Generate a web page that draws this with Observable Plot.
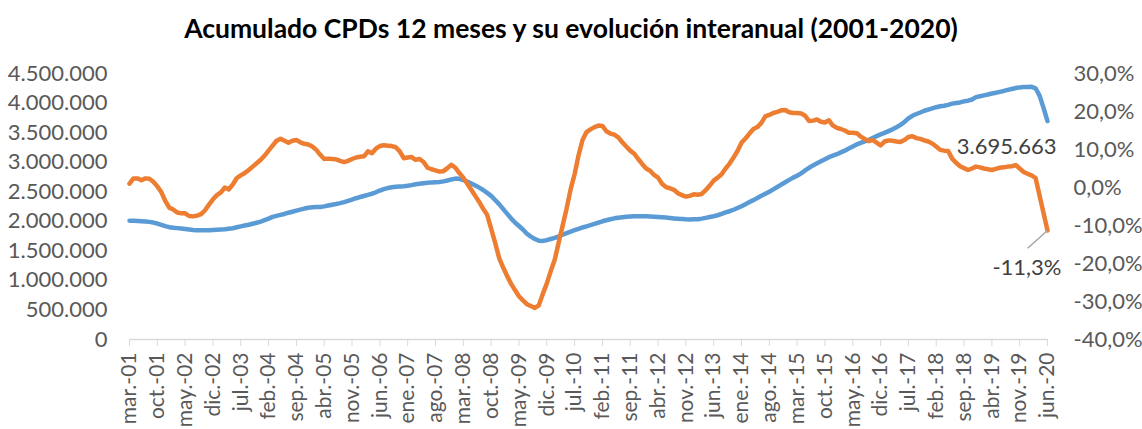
<!DOCTYPE html>
<html><head><meta charset="utf-8">
<script src="https://cdn.jsdelivr.net/npm/d3@7"></script>
<script src="https://cdn.jsdelivr.net/npm/@observablehq/plot@0.6"></script>
<style>
body{margin:0;background:#fff;font-family:Lato,"Open Sans",sans-serif;}
#title{width:1142px;height:50px;line-height:56px;text-align:center;font-weight:bold;font-size:26.5px;color:#000;white-space:nowrap;}
</style></head><body>
<div id="title">Acumulado CPDs 12 meses y su evolución interanual (2001-2020)</div>
<div id="chart"></div>
<script>
// Acumulado 12 meses (left axis), mar-01 .. jun-20
const blueValues = [
 2010000,2008000,2005000,2002000,1998000,1990000,1978000,1962000,1940000,1918000,1900000,1892000,
 1884000,1877000,1868000,1860000,1852000,1850000,1849000,1849000,1850000,1853000,1857000,1862000,
 1866000,1874000,1882000,1898000,1914000,1928000,1942000,1958000,1975000,1995000,2020000,2045000,
 2075000,2092000,2108000,2124000,2145000,2162000,2180000,2198000,2215000,2230000,2236000,2240000,
 2243000,2252000,2266000,2280000,2293000,2308000,2325000,2345000,2367000,2390000,2410000,2428000,
 2447000,2466000,2490000,2520000,2545000,2562000,2575000,2585000,2590000,2592000,2600000,2612000,
 2625000,2636000,2645000,2652000,2658000,2662000,2666000,2675000,2690000,2708000,2722000,2718000,
 2698000,2670000,2640000,2605000,2570000,2530000,2480000,2430000,2360000,2290000,2210000,2130000,
 2050000,1980000,1920000,1860000,1790000,1740000,1700000,1672000,1668000,1680000,1700000,1720000,
 1745000,1772000,1800000,1826000,1850000,1872000,1895000,1915000,1935000,1955000,1978000,2000000,
 2018000,2035000,2050000,2060000,2068000,2075000,2080000,2084000,2086000,2087000,2086000,2082000,
 2078000,2073000,2068000,2062000,2055000,2048000,2042000,2037000,2033000,2032000,2034000,2036000,
 2045000,2058000,2072000,2086000,2102000,2125000,2150000,2170000,2195000,2225000,2255000,2290000,
 2325000,2358000,2395000,2430000,2465000,2500000,2540000,2580000,2620000,2660000,2700000,2738000,
 2770000,2810000,2860000,2905000,2945000,2980000,3015000,3050000,3085000,3110000,3135000,3165000,
 3195000,3230000,3265000,3300000,3325000,3350000,3375000,3410000,3440000,3470000,3495000,3525000,
 3555000,3590000,3630000,3680000,3740000,3785000,3815000,3840000,3870000,3890000,3910000,3930000,
 3945000,3955000,3970000,3990000,4002000,4010000,4030000,4040000,4060000,4100000,4115000,4130000,
 4145000,4162000,4175000,4190000,4205000,4222000,4238000,4255000,4265000,4270000,4272000,4275000,
 4250000,4125000,3920000,3695663
];
// Evolución interanual, % (right axis)
const orangeValues = [
 1.0,2.4,2.4,1.9,2.4,2.3,1.5,0.3,-1.2,-3.5,-5.3,-5.8,
 -6.6,-6.8,-6.8,-7.5,-7.6,-7.4,-7.0,-6.0,-4.5,-3.1,-2.0,-1.3,
 0.0,-0.5,0.8,2.5,3.2,3.8,4.6,5.5,6.4,7.3,8.4,9.7,
 11.0,12.3,12.8,12.3,11.8,12.3,12.5,11.9,11.5,11.3,10.8,9.9,
 8.6,7.5,7.6,7.5,7.4,7.0,6.7,7.0,7.5,7.9,8.1,8.2,
 9.5,9.0,10.2,10.9,11.1,11.0,10.9,10.6,9.5,7.7,7.9,8.0,
 7.3,7.5,6.7,5.2,4.8,4.5,4.2,4.3,5.1,6.0,5.2,3.8,
 2.6,1.0,-0.6,-2.2,-3.8,-5.6,-7.2,-10.8,-14.5,-18.5,-21.0,-23.2,
 -25.3,-27.0,-28.6,-29.7,-30.7,-31.2,-31.7,-31.0,-28.0,-25.3,-22.0,-19.0,
 -14.5,-10.0,-5.5,-0.5,3.5,8.5,12.5,14.6,15.3,15.9,16.3,16.2,
 14.8,14.2,13.9,13.2,11.9,10.8,9.7,8.9,7.5,6.2,5.0,4.4,
 3.3,2.6,1.0,0.1,-0.2,-0.6,-1.5,-2.0,-2.4,-2.2,-1.8,-1.9,
 -1.7,-0.7,0.5,1.8,2.6,3.5,5.0,6.3,7.9,9.6,11.8,12.9,
 14.2,15.4,15.9,17.0,18.7,19.1,19.6,19.9,20.3,20.4,19.8,19.6,
 19.6,19.5,18.9,17.5,17.6,17.9,17.3,17.1,17.7,16.3,15.7,15.4,
 15.0,14.4,14.4,14.3,13.4,12.8,12.2,12.5,11.8,11.1,12.1,12.4,
 12.3,12.1,12.0,12.5,13.3,13.5,13.0,12.8,12.4,12.1,11.6,10.8,
 9.9,9.7,9.6,7.6,6.5,5.6,5.1,4.6,5.0,5.5,5.3,5.0,
 4.8,4.6,4.9,5.2,5.3,5.5,5.6,5.9,5.0,4.1,3.6,3.2,
 2.5,-2.1,-6.7,-11.3
];
const monthNames = ["ene.","feb.","mar.","abr.","may.","jun.","jul.","ago.","sep.","oct.","nov.","dic."];
const leftTicks = [0,500000,1000000,1500000,2000000,2500000,3000000,3500000,4000000,4500000];
const rightTicks = [-40,-30,-20,-10,0,10,20,30];
const leftMax = 4500000, rightMin = -40, rightMax = 30;
const tickStep = 7;

const months = blueValues.map((_, i) => {
  const k = 2 + i;
  return monthNames[k % 12] + "-" + String((2001 + Math.floor(k / 12)) % 100).padStart(2, "0");
});
const rows = months.map((m, i) => ({month: m, blue: blueValues[i], orange: orangeValues[i]}));
const last = rows[rows.length - 1];

const es = d3.formatLocale({decimal: ",", thousands: ".", grouping: [3], currency: ["", " €"], minus: "-"});
const fmtInt = es.format(",d");
const fmtPct = p => es.format(".1f")(p) + "%";
const toLeft = p => (p - rightMin) / (rightMax - rightMin) * leftMax;
const fromLeft = v => v / leftMax * (rightMax - rightMin) + rightMin;

const chart = Plot.plot({
  width: 1142, height: 379,
  marginLeft: 129, marginRight: 95, marginTop: 23, marginBottom: 90,
  style: {fontFamily: "Lato, 'Open Sans', sans-serif", fontSize: "21px", color: "#595959", background: "#fff", overflow: "visible"},
  x: {type: "point", domain: months, padding: 0, label: null},
  y: {domain: [0, leftMax], label: null},
  marks: [
    Plot.axisY(leftTicks, {anchor: "left", label: null, tickSize: 0, tickPadding: 22, tickFormat: fmtInt, fill: "#595959", fontSize: 22}),
    Plot.axisY(rightTicks.map(toLeft), {anchor: "right", label: null, tickSize: 0, tickPadding: 26, tickFormat: v => fmtPct(Math.round(fromLeft(v))), fill: "#595959", fontSize: 22}),
    Plot.axisX(months.filter((d, i) => i % tickStep === 0), {anchor: "bottom", label: null, tickRotate: -90, tickSize: 7, tickPadding: 6, stroke: "#d9d9d9", fill: "#595959", fontSize: 21, strokeOpacity: 1}),
    Plot.ruleY([0], {stroke: "#d9d9d9", strokeWidth: 1.5}),
    Plot.lineY(rows, {x: "month", y: "blue", stroke: "#5B9BD5", strokeWidth: 4.5, strokeLinejoin: "round", strokeLinecap: "round"}),
    Plot.lineY(rows, {x: "month", y: d => toLeft(d.orange), stroke: "#ED7D31", strokeWidth: 4.5, strokeLinejoin: "round", strokeLinecap: "round"}),
    Plot.link([last], {x1: "month", y1: d => toLeft(d.orange), x2: () => months[months.length - 6], y2: d => toLeft(d.orange - 4.7), stroke: "#a6a6a6", strokeWidth: 1.5}),
    Plot.text([last], {x: "month", y: "blue", text: d => fmtInt(d.blue), textAnchor: "end", dx: 9, dy: 26, fill: "#404040", fontSize: 22}),
    Plot.text([last], {x: "month", y: d => toLeft(d.orange), text: d => fmtPct(d.orange), textAnchor: "end", dx: 14, dy: 38, fill: "#404040", fontSize: 22})
  ]
});
document.getElementById("chart").appendChild(chart);
</script>
</body></html>
